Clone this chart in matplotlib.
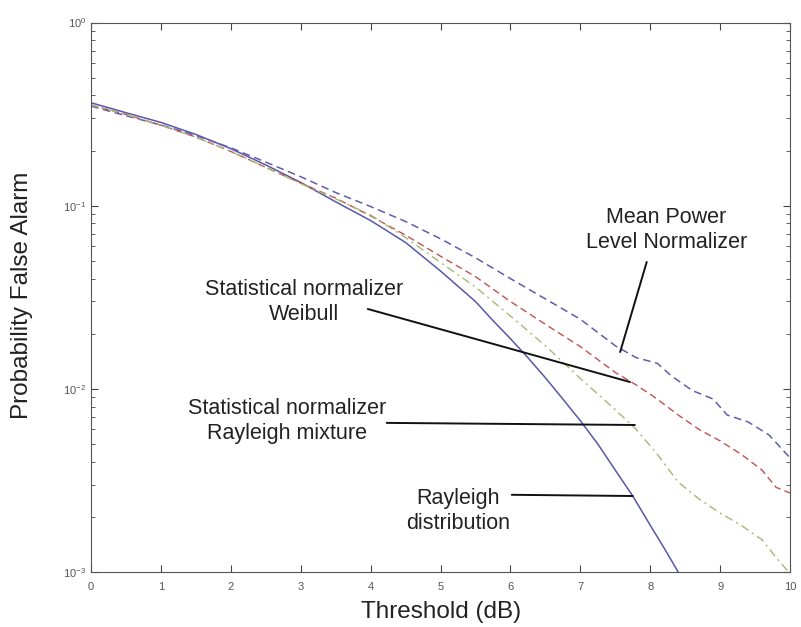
import matplotlib
matplotlib.use('Agg')
import matplotlib.pyplot as plt

plt.rcParams['font.family'] = ['Liberation Sans', 'DejaVu Sans']

# threshold (dB) and false alarm probability
x_rayleigh = [0, 0.5, 1, 1.5, 2, 2.5, 3, 3.5, 4, 4.5, 5, 5.5, 5.75, 6, 6.25, 6.5,
              6.75, 7, 7.25, 7.5, 7.75, 8, 8.2, 8.4]
p_rayleigh = [0.365, 0.322, 0.285, 0.245, 0.205, 0.167, 0.134, 0.105, 0.083, 0.063,
              0.044, 0.030, 0.0236, 0.0188, 0.0148, 0.0115, 0.0088, 0.0067, 0.0050,
              0.0036, 0.0026, 0.0018, 0.00135, 0.001]

x_mean = [0, 0.5, 1, 1.5, 2, 2.5, 3, 3.5, 4, 4.5, 5, 5.5, 6, 6.5, 7, 7.5, 7.8, 8.1,
          8.3, 8.6, 8.9, 9.1, 9.4, 9.7, 10]
p_mean = [0.35, 0.31, 0.276, 0.242, 0.207, 0.173, 0.144, 0.118, 0.099, 0.082, 0.066,
          0.052, 0.040, 0.031, 0.024, 0.0172, 0.0148, 0.0138, 0.0118, 0.0098, 0.0088,
          0.0072, 0.0066, 0.0056, 0.0042]

x_weibull = [0, 0.5, 1, 1.5, 2, 2.5, 3, 3.5, 4, 4.5, 5, 5.5, 6, 6.5, 7, 7.5, 7.8, 8.1,
             8.4, 8.7, 9.0, 9.3, 9.6, 9.8, 10]
p_weibull = [0.355, 0.315, 0.275, 0.237, 0.198, 0.162, 0.133, 0.110, 0.088, 0.069,
             0.053, 0.041, 0.030, 0.0225, 0.0170, 0.0123, 0.0105, 0.0088, 0.0072,
             0.0060, 0.0052, 0.0044, 0.0036, 0.0029, 0.0027]

x_mixture = [0, 0.5, 1, 1.5, 2, 2.5, 3, 3.5, 4, 4.5, 5, 5.5, 6, 6.5, 7, 7.5, 7.8, 8.1,
             8.4, 8.7, 9.0, 9.3, 9.6, 9.8, 10]
p_mixture = [0.355, 0.315, 0.275, 0.237, 0.198, 0.162, 0.132, 0.109, 0.089, 0.067,
             0.049, 0.036, 0.025, 0.0172, 0.0114, 0.0077, 0.0060, 0.0044, 0.0031,
             0.0025, 0.0021, 0.0018, 0.0015, 0.0012, 0.00098]

fig = plt.figure(figsize=(8.01, 6.27), dpi=100)
ax = fig.add_axes([0.1136, 0.0877, 0.8727, 0.8763])

ax.semilogy(x_rayleigh, p_rayleigh, color='#5858aa', lw=1.1, ls='-')
ax.semilogy(x_mean, p_mean, color='#5e5eb0', lw=1.1, ls=(0, (5, 3)))
ax.semilogy(x_weibull, p_weibull, color='#c45050', lw=1.0, ls=(0, (5, 3)))
ax.semilogy(x_mixture, p_mixture, color='#a6b872', lw=1.0, ls=(0, (6, 3, 1.5, 3)))

ax.set_xlim(0, 10)
ax.set_ylim(1e-3, 1)
ax.set_xticks(range(0, 11))
ax.tick_params(which='both', direction='in', top=True, right=True,
               colors='#444444', labelcolor='#555555', labelsize=8)
ax.tick_params(which='major', length=5)
ax.tick_params(axis='x', which='major', pad=7)
ax.tick_params(which='minor', length=3)
for s in ax.spines.values():
    s.set_color('#555555')

ax.set_xlabel('Threshold (dB)', fontsize=17.5, color='#222222', va='center')
ax.set_ylabel('Probability False Alarm', fontsize=17.5, color='#222222', va='center')
ax.xaxis.set_label_coords(0.5007, -0.0728)
ax.yaxis.set_label_coords(-0.0987, 0.504)

txt = dict(fontsize=15.5, ha='center', va='center', color='#222222', linespacing=1.25)
line = dict(arrowstyle='-', color='#111111', lw=1.4, shrinkA=0, shrinkB=0)

ax.text(8.23, 0.0737, 'Mean Power\nLevel Normalizer', **txt)
ax.annotate('', xy=(7.57, 0.0159), xytext=(7.95, 0.0493), arrowprops=line)

ax.text(3.05, 0.0298, 'Statistical normalizer\nWeibull', **txt)
ax.annotate('', xy=(7.71, 0.0109), xytext=(3.96, 0.0273), arrowprops=line)

ax.text(2.80, 0.00668, 'Statistical normalizer\nRayleigh mixture', **txt)
ax.annotate('', xy=(7.78, 0.00635), xytext=(4.23, 0.00652), arrowprops=line)

ax.text(5.25, 0.00216, 'Rayleigh\ndistribution', **txt)
ax.annotate('', xy=(7.75, 0.0026), xytext=(6.02, 0.00264), arrowprops=line)

fig.savefig('out.png', dpi=100)
